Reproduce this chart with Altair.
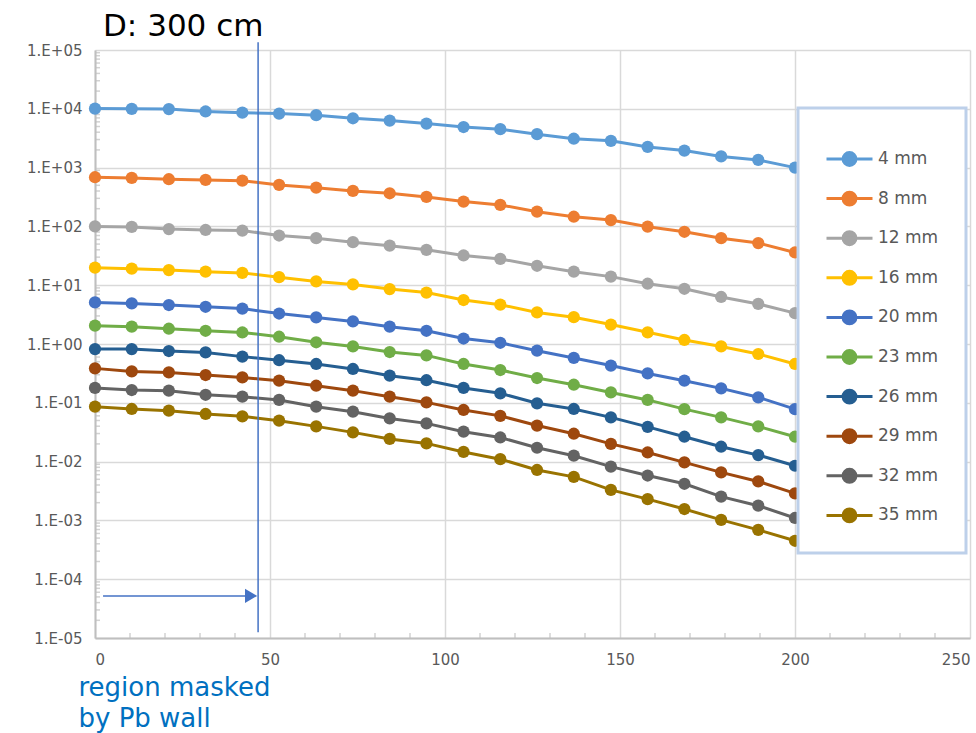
import altair as alt
import pandas as pd

# ---- data ----
x_vals = [0, 10.5, 21.1, 31.6, 42.1, 52.6, 63.2, 73.7, 84.2, 94.7,
          105.3, 115.8, 126.3, 136.8, 147.4, 157.9, 168.4, 178.9, 189.5, 200]

series_names = ["4 mm", "8 mm", "12 mm", "16 mm", "20 mm",
                "23 mm", "26 mm", "29 mm", "32 mm", "35 mm"]
series_colors = ["#5B9BD5", "#ED7D31", "#A5A5A5", "#FFC000", "#4472C4",
                 "#70AD47", "#255E91", "#9E480E", "#636363", "#997300"]

v4 = [10100, 10000, 9900, 9000, 8600, 8300, 7800, 6900, 6300, 5600,
      4900, 4500, 3700, 3100, 2850, 2250, 1950, 1550, 1350, 1000]
v8 = [686, 668, 634, 617, 600, 507, 456, 401, 366, 317,
      264, 232, 178, 146, 128, 99, 81, 63, 52, 36]
v12 = [100, 98, 90, 87, 85, 70, 63, 54, 47, 40,
       32, 28, 21.4, 17, 14, 10.6, 8.7, 6.3, 4.8, 3.35]
v16 = [19.9, 19.1, 18.1, 17, 16.2, 13.7, 11.6, 10.3, 8.6, 7.5,
       5.6, 4.66, 3.44, 2.86, 2.14, 1.58, 1.17, 0.91, 0.676, 0.457]
v20 = [5.1, 4.9, 4.6, 4.3, 4.0, 3.3, 2.83, 2.42, 1.97, 1.68,
       1.24, 1.05, 0.77, 0.58, 0.43, 0.316, 0.238, 0.176, 0.124, 0.078]
v23 = [2.05, 1.97, 1.82, 1.68, 1.57, 1.33, 1.07, 0.91, 0.73, 0.64,
       0.457, 0.361, 0.264, 0.203, 0.150, 0.112, 0.078, 0.0565, 0.0397, 0.0265]
v26 = [0.82, 0.82, 0.76, 0.72, 0.61, 0.53, 0.457, 0.376, 0.289, 0.242,
       0.179, 0.145, 0.098, 0.0785, 0.0565, 0.039, 0.0265, 0.0179, 0.0129, 0.0085]
v29 = [0.385, 0.342, 0.329, 0.297, 0.27, 0.238, 0.195, 0.161, 0.127, 0.1016,
       0.0755, 0.060, 0.041, 0.0298, 0.020, 0.0143, 0.0097, 0.00655, 0.0046, 0.00288]
v32 = [0.179, 0.165, 0.161, 0.137, 0.127, 0.112, 0.086, 0.0706, 0.0543, 0.0447,
       0.0323, 0.0257, 0.0172, 0.0126, 0.0082, 0.0058, 0.0042, 0.00254, 0.00178, 0.0011]
v35 = [0.086, 0.0785, 0.0735, 0.0645, 0.0588, 0.0497, 0.0397, 0.0314, 0.0243, 0.0204,
       0.0146, 0.011, 0.0072, 0.0055, 0.0033, 0.0023, 0.00156, 0.00102, 0.00069, 0.00045]

all_values = [v4, v8, v12, v16, v20, v23, v26, v29, v32, v35]

# annotation values
mask_x = 46.6
vline_top = 1.35e5
vline_bottom = 1.25e-5
arrow_start = 2.3
arrow_end = 43.5
arrow_head = 44.6
arrow_y = 5.2e-5

x_major = [0, 50, 100, 150, 200, 250]
x_minor = [10, 20, 30, 40, 60, 70, 80, 90, 110, 120, 130, 140, 160, 170, 180, 190,
           210, 220, 230, 240]
y_major = [1e-5, 1e-4, 1e-3, 1e-2, 1e-1, 1, 10, 100, 1e3, 1e4, 1e5]
y_minor = [m * 10.0 ** e for e in range(-5, 5) for m in range(2, 10)]

# ---- tables ----
rows = []
for name, vals in zip(series_names, all_values):
    for xv, yv in zip(x_vals, vals):
        rows.append({"x": xv, "y": yv, "series": name})
df = pd.DataFrame(rows)

FONT = "DejaVu Sans"
GRID = "#D9D9D9"
AXISC = "#BFBFBF"
LABELC = "#595959"

x_scale = alt.Scale(domain=[0, 250], nice=False, zero=False)
y_scale = alt.Scale(type="log", domain=[1e-5, 1e5], nice=False)

label_expr_y = ("'1.E' + (round(log(datum.value)/LN10) < 0 ? '-' : '+') + '0' + "
                "abs(round(log(datum.value)/LN10))")

x_axis = alt.Axis(values=x_major, format="d", grid=True, gridColor=GRID, gridWidth=1.5,
                  ticks=False, domainColor=AXISC, domainWidth=2,
                  labelFont=FONT, labelFontSize=15, labelColor=LABELC, labelPadding=14,
                  title=["region masked", "by Pb wall"], titleFont=FONT, titleFontSize=26,
                  titleFontWeight="normal", titleColor="#0070C0", titleAnchor="start",
                  titleAlign="left", titleBaseline="alphabetic", titleX=-17, titleY=57,
                  titleLineHeight=31)
y_axis = alt.Axis(values=y_major, labelExpr=label_expr_y, grid=True, gridColor=GRID,
                  gridWidth=1.5, ticks=False, domainColor=AXISC, domainWidth=2,
                  labelFont=FONT, labelFontSize=15, labelColor=LABELC, labelPadding=13,
                  title=None)

X = alt.X("x:Q", scale=x_scale, axis=x_axis)
Y = alt.Y("y:Q", scale=y_scale, axis=y_axis)

color = alt.Color(
    "series:N",
    scale=alt.Scale(domain=series_names, range=series_colors),
    sort=series_names,
    legend=alt.Legend(
        title=" ", titleFontSize=4, titlePadding=10,
        orient="none", legendX=703, legendY=58,
        symbolType="M-1,0H1M-0.28,0a0.28,0.28 0 1,0 0.56,0a0.28,0.28 0 1,0 -0.56,0",
        symbolSize=2116, symbolStrokeWidth=3, clipHeight=20, rowPadding=19.6,
        labelFont=FONT, labelFontSize=17, labelColor=LABELC, labelOffset=4,
        padding=27, strokeColor="#BDD0EA", fillColor="white",
    ),
)

base = alt.Chart(df)
lines = base.mark_line(strokeWidth=3).encode(x=X, y=Y, color=color)
points = base.mark_point(filled=True, size=150, opacity=1, strokeWidth=0).encode(
    x=X, y=Y, color=color)

xminor_df = pd.DataFrame({"x": x_minor, "y": [1e-5] * len(x_minor)})
yminor_df = pd.DataFrame({"x": [0] * len(y_minor), "y": y_minor})
xticks = alt.Chart(xminor_df).mark_tick(orient="vertical", size=5, thickness=1.5,
                                        color=AXISC, yOffset=-2.5).encode(x=X, y=Y)
yticks = alt.Chart(yminor_df).mark_tick(orient="horizontal", size=5, thickness=1.5,
                                        color=AXISC, xOffset=2.5).encode(x=X, y=Y)

vline_df = pd.DataFrame({"x": [mask_x], "y": [vline_top], "y2": [vline_bottom]})
vline = alt.Chart(vline_df).mark_rule(color="#4472C4", strokeWidth=1.5).encode(
    x=X, y=Y, y2="y2:Q")

arrow_df = pd.DataFrame({"x": [arrow_start], "x2": [arrow_end], "y": [arrow_y]})
arrow = alt.Chart(arrow_df).mark_rule(color="#4472C4", strokeWidth=1.5).encode(
    x=X, x2="x2:Q", y=Y)
head_df = pd.DataFrame({"x": [arrow_head], "y": [arrow_y]})
head = alt.Chart(head_df).mark_point(shape="triangle-right", filled=True, size=200,
                                     color="#4472C4", opacity=1).encode(x=X, y=Y)

chart = alt.layer(xticks, yticks, lines, points, vline, arrow, head).properties(
    width=875, height=588,
    autosize=alt.AutoSizeParams(type="none"),
    padding={"left": 95, "top": 50, "right": 6, "bottom": 95},
    title=alt.TitleParams("D: 300 cm", anchor="start", frame="group", font=FONT,
                          fontSize=31, fontWeight="normal", color="black", dx=8, dy=5,
                          offset=4),
).configure_view(stroke=None).configure_legend(strokeWidth=3)

chart.save("out.html", embed_options={"renderer": "svg", "actions": False})
